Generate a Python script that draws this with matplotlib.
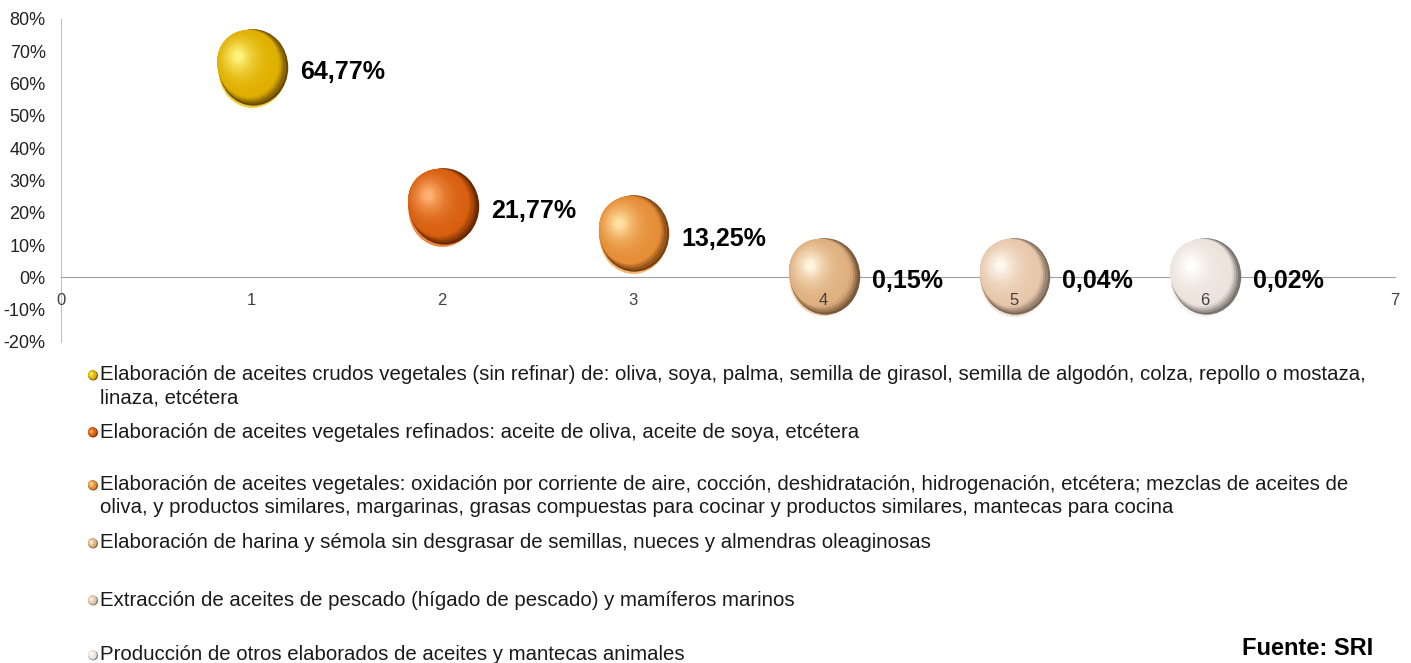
import numpy as np
import matplotlib
matplotlib.use("Agg")
from matplotlib import pyplot as plt
from matplotlib.path import Path
from matplotlib.transforms import offset_copy

plt.rcParams['font.family'] = ['Liberation Sans', 'DejaVu Sans']

# data
xs = [1, 2, 3, 4, 5, 6]
shares = [64.77, 21.77, 13.25, 0.15, 0.04, 0.02]
share_labels = ['64,77%', '21,77%', '13,25%', '0,15%', '0,04%', '0,02%']
categories = [
    ['Elaboración de aceites crudos vegetales (sin refinar) de: oliva, soya, palma, semilla de girasol, semilla de algodón, colza, repollo o mostaza,',
     'linaza, etcétera'],
    ['Elaboración de aceites vegetales refinados: aceite de oliva, aceite de soya, etcétera'],
    ['Elaboración de aceites vegetales: oxidación por corriente de aire, cocción, deshidratación, hidrogenación, etcétera; mezclas de aceites de',
     'oliva, y productos similares, margarinas, grasas compuestas para cocinar y productos similares, mantecas para cocina'],
    ['Elaboración de harina y sémola sin desgrasar de semillas, nueces y almendras oleaginosas'],
    ['Extracción de aceites de pescado (hígado de pescado) y mamíferos marinos'],
    ['Producción de otros elaborados de aceites y mantecas animales'],
]
# (dark edge, base, highlight) per bubble
palette = [
    ('#6a4a00', '#e0b000', '#fff27a'),
    ('#6a2800', '#d86010', '#ffb070'),
    ('#7a4010', '#e68e38', '#ffe0a0'),
    ('#7a5a3a', '#e0b080', '#fff4dc'),
    ('#7a6858', '#e8c8ac', '#fff8ee'),
    ('#7a7470', '#ece4dc', '#ffffff'),
]
legend_y = [0.4344, 0.3484, 0.2685, 0.181, 0.095, 0.0121]

ellipse = Path(Path.unit_circle().vertices * [1.0, 1.1], Path.unit_circle().codes)


def to_rgb(c):
    return np.array(matplotlib.colors.to_rgb(c))


def sphere(ax, fig, x, y, colors, diam, transform, z=3):
    dark, base, light = [to_rgb(c) for c in colors]
    # light rim at the bottom
    tr = offset_copy(transform, fig=fig, x=0, y=-0.02 * diam, units='points')
    ax.scatter([x], [y], s=(diam * 0.98) ** 2, marker=ellipse,
               color=base * 0.5 + light * 0.5, linewidths=0, transform=tr, zorder=z)
    n = 30
    for i in range(n):
        t = i / (n - 1)
        d = diam * (1 - 0.88 * t)
        if t < 0.12:
            col = dark + (base - dark) * (t / 0.12)
        else:
            col = base + (light - base) * ((t - 0.12) / 0.88) ** 1.8
        f = 1 - (1 - t) ** 3
        tr = offset_copy(transform, fig=fig, x=(0.02 - 0.2 * f) * diam,
                         y=(0.015 + 0.14 * f) * diam, units='points')
        ax.scatter([x], [y], s=d ** 2, marker=ellipse, color=col,
                   linewidths=0, transform=tr, zorder=z + 0.01 + i * 0.01)


fig = plt.figure(figsize=(14.11, 6.63), dpi=100)
ax = fig.add_axes([0.0432, 0.4842, 0.9455, 0.4872])
ax.set_xlim(0, 7)
ax.set_ylim(-20, 80)
ax.set_yticks(range(-20, 81, 10))
ax.set_yticklabels([f'{v}%' for v in range(-20, 81, 10)], fontsize=13)
ax.set_xticks(range(0, 8))
ax.tick_params(axis='x', labelsize=12, labelcolor='#404040', length=0, pad=11)
ax.tick_params(axis='y', length=0, pad=11, labelcolor='#222222')
for s in ['top', 'right']:
    ax.spines[s].set_visible(False)
ax.spines['bottom'].set_position(('data', 0))
ax.spines['bottom'].set_color('#a0a0a0')
ax.spines['left'].set_color('#c0c0c0')
ax.spines['bottom'].set_zorder(1)
ax.spines['left'].set_zorder(1)
ax.xaxis.set_zorder(5)

for x, y, lab, cols in zip(xs, shares, share_labels, palette):
    sphere(ax, fig, x, y, cols, 55, ax.transData)
    ax.annotate(lab, (x, y), xytext=(35, -3), textcoords='offset points',
                ha='left', va='center', fontsize=18, fontweight='bold', zorder=6)

# legend
lax = fig.add_axes([0, 0, 1, 1], facecolor='none')
lax.set_xlim(0, 1)
lax.set_ylim(0, 1)
lax.axis('off')
line_step = 23 / 663
for lines, yy, cols in zip(categories, legend_y, palette):
    sphere(lax, fig, 0.0655, yy, cols, 7, lax.transData)
    for k, line in enumerate(lines):
        lax.text(0.071, yy - k * line_step, line, fontsize=14.7, va='center',
                 ha='left', color='#1a1a1a')

lax.text(0.973, 0.022, 'Fuente: SRI', fontsize=17, fontweight='bold',
         ha='right', va='center')

fig.savefig('out.png', dpi=100)
